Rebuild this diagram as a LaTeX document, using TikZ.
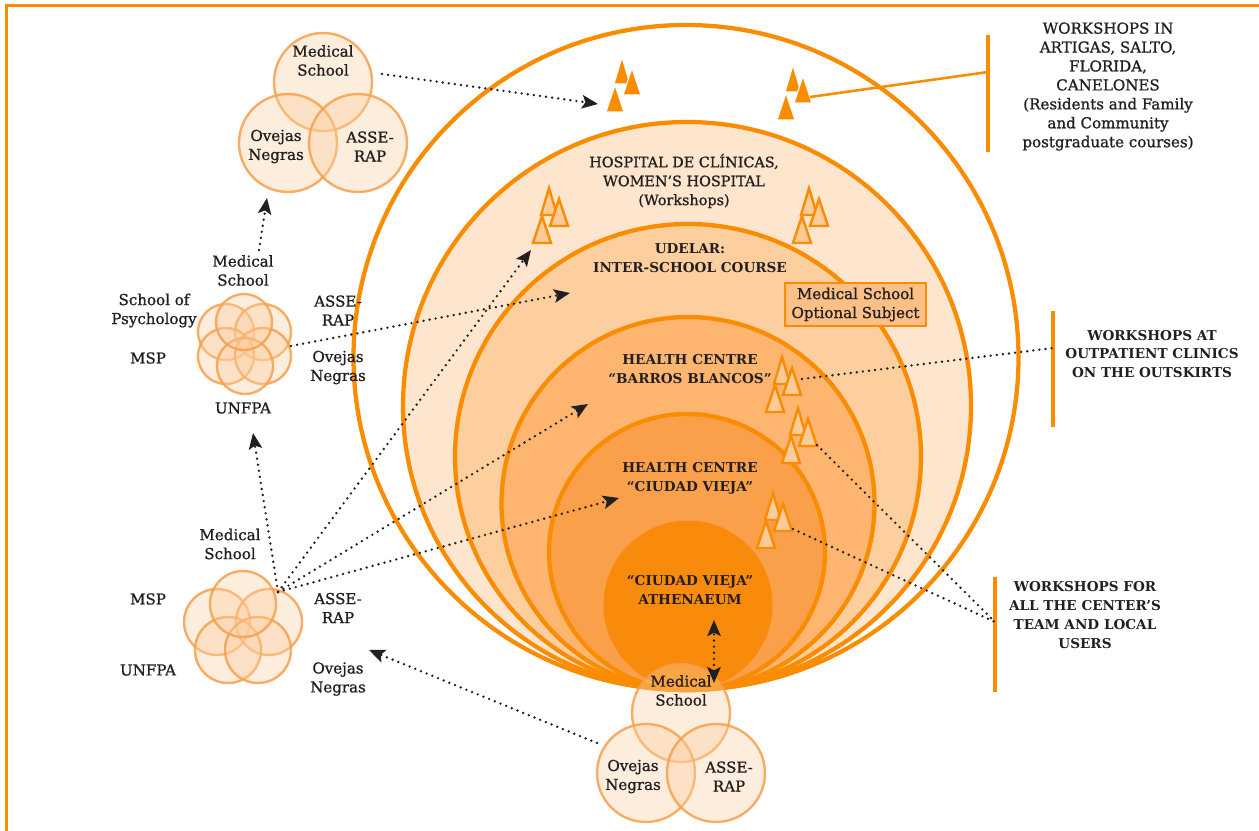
\documentclass[tikz,border=0pt]{standalone}
\usepackage{fontspec}
\setmainfont{DejaVu Serif}
\newfontfamily\medfont{DejaVu Serif}[FakeBold=1.0]
\usetikzlibrary{arrows.meta}
\definecolor{org}{HTML}{F98C00}
\definecolor{ringA}{HTML}{FEE6CE}
\definecolor{ringB}{HTML}{FDCF9E}
\definecolor{ringC}{HTML}{FDB56F}
\definecolor{ringD}{HTML}{FBA04A}
\definecolor{ringE}{HTML}{F98B0C}
\definecolor{trifill}{HTML}{FDCB9A}
\definecolor{boxfill}{HTML}{FCBF86}
\definecolor{vcdraw}{HTML}{F6A04D}
\definecolor{vcfill}{HTML}{FBCFA2}
\definecolor{ink}{HTML}{231F20}
\tikzset{
  ring/.style={circle, draw=org, line width=3.2pt, inner sep=0pt},
  vc/.style={circle, draw=vcdraw, draw opacity=0.85, line width=1.8pt, fill=vcfill, fill opacity=0.38, inner sep=0pt},
  lbl/.style={align=center, inner sep=0pt, text=ink, font=\medfont\fontsize{11.3}{14.2}\selectfont},
  caplbl/.style={lbl, font=\bfseries\fontsize{10.2}{14.2}\selectfont},
  dots/.style={draw=ink, line width=2pt, dash pattern=on 0pt off 4.6pt, line cap=round},
  arr/.style={dots, -{Stealth[length=12pt,width=10pt,inset=2.5pt]}},
  darr/.style={dots, {Stealth[length=12pt,width=10pt,inset=2.5pt]}-{Stealth[length=12pt,width=10pt,inset=2.5pt]}},
  bar/.style={draw=org, line width=3pt},
  otri/.style={draw=org, line width=1.8pt, fill=trifill},
  stri/.style={draw=white, line width=0.9pt, fill=org},
  tris/.pic={
    \path[pic actions] (0,0) -- (8,27) -- (-8,27) -- cycle;
    \path[pic actions] (10,11) -- (19,38) -- (1,38) -- cycle;
    \path[pic actions] (-7,28) -- (2,55) -- (-16,55) -- cycle;
  }
}
\begin{document}
\begin{tikzpicture}[x=0.75pt,y=-0.75pt]
\useasboundingbox (0,0) rectangle (1259,831);
% frame
\draw[org, line width=1.9pt] (6.5,831) -- (6.5,5.5) -- (1259,5.5);

% rings
\node[ring, fill=white, minimum size=498.75pt] (outer) at (686,357.5) {};
\node[ring, fill=ringA, minimum size=426pt] (hosp) at (687,406) {};
\node[ring, fill=ringB, minimum size=349.5pt] (udelar) at (688,457) {};
\node[ring, fill=ringC, minimum size=279.75pt] (barros) at (688,503.5) {};
\node[ring, fill=ringD, minimum size=207pt] (cvieja) at (687,552) {};
\node[circle, fill=ringE, inner sep=0pt, minimum size=126.75pt] (ath) at (688,605) {};

% ring labels
\node[lbl, font=\medfont\fontsize{10.8}{14.2}\selectfont] (lhosp) at (684,181) {HOSPITAL DE CLÍNICAS,\\WOMEN’S HOSPITAL\\(Workshops)};
\node[caplbl] (ludelar) at (690,258.5) {UDELAR:\\INTER-SCHOOL COURSE};
\node[caplbl] (lbarros) at (690,369) {HEALTH CENTRE\\“BARROS BLANCOS”};
\node[caplbl] (lcv) at (690,478) {HEALTH CENTRE\\“CIUDAD VIEJA”};
\node[caplbl] (lath) at (690,590.5) {“CIUDAD VIEJA”\\ATHENAEUM};
\node[lbl, draw=org, line width=1.8pt, fill=boxfill, minimum width=105.75pt, minimum height=32.25pt] (optbox) at (855.5,304.5) {Medical School\\Optional Subject};

% triangle groups
\pic[stri] at (622,57) {tris};
\pic[stri] at (793,65) {tris};
\pic[otri] at (549,188) {tris};
\pic[otri] at (809,188) {tris};
\pic[otri] at (782,357) {tris};
\pic[otri] at (798,408) {tris};
\pic[otri] at (773,493) {tris};

% top-left cluster
\node[vc, minimum size=73.5pt] (tlm) at (323,82) {};
\node[vc, minimum size=73.5pt] (tlo) at (288,143) {};
\node[vc, minimum size=73.5pt] (tla) at (358,143) {};
\node[lbl] (ttlm) at (323,60.5) {Medical\\School};
\node[lbl] (ttlo) at (276,146.5) {Ovejas\\Negras};
\node[lbl] (ttla) at (370,146.5) {ASSE-\\RAP};

% middle cluster (6)
\node[vc, minimum size=42pt] (mp) at (226,332) {};
\node[vc, minimum size=42pt] (ma) at (263,332) {};
\node[vc, minimum size=42pt] (ms) at (226,356) {};
\node[vc, minimum size=42pt] (mo) at (263,356) {};
\node[vc, minimum size=42pt] (mu) at (245,366) {};
\node[vc, minimum size=42pt] (mm) at (244,322) {};
\node[lbl] (tmm) at (243,270.5) {Medical\\School};
\node[lbl] (tmp) at (154,310.5) {School of\\Psychology};
\node[lbl] (tms) at (148,358) {MSP};
\node[lbl] (tma) at (338,310.5) {ASSE-\\RAP};
\node[lbl] (tmo) at (338,367.5) {Ovejas\\Negras};
\node[lbl] (tmu) at (243,408) {UNFPA};

% lower-left cluster (5)
\node[vc, minimum size=49.5pt] (ls) at (217,622) {};
\node[vc, minimum size=49.5pt] (la) at (269,622) {};
\node[vc, minimum size=49.5pt] (lu) at (228,650) {};
\node[vc, minimum size=49.5pt] (lo) at (258,650) {};
\node[vc, minimum size=49.5pt] (lm) at (243,604) {};
\node[lbl] (tlm2) at (230,544) {Medical\\School};
\node[lbl] (tls) at (148,599) {MSP};
\node[lbl] (tla2) at (338,608) {ASSE-\\RAP};
\node[lbl] (tlu) at (148,670) {UNFPA};
\node[lbl] (tlo2) at (338,679) {Ovejas\\Negras};

% bottom cluster
\node[vc, minimum size=73.5pt] (bm) at (681,713) {};
\node[vc, minimum size=73.5pt] (bo) at (646,773) {};
\node[vc, minimum size=73.5pt] (ba) at (716,773) {};
\node[lbl] (tbm) at (681,690.5) {Medical\\School};
\node[lbl] (tbo) at (633,776.5) {Ovejas\\Negras};
\node[lbl] (tba) at (729,776.5) {ASSE-\\RAP};

% right bars and labels
\coordinate (b1t) at (988,35); \coordinate (b1b) at (988,152);
\coordinate (b2t) at (1053,311); \coordinate (b2b) at (1053,427);
\coordinate (b3t) at (995,577); \coordinate (b3b) at (995,692);
\draw[bar] (b1t) -- (b1b);
\draw[bar] (b2t) -- (b2b);
\draw[bar] (b3t) -- (b3b);
\node[lbl] (r1) at (1108,86.5) {WORKSHOPS IN\\ARTIGAS, SALTO,\\FLORIDA,\\CANELONES\\(Residents and Family\\and Community\\postgraduate courses)};
\node[caplbl] (r2) at (1152,354) {WORKSHOPS AT\\OUTPATIENT CLINICS\\ON THE OUTSKIRTS};
\node[caplbl] (r3) at (1085,615) {WORKSHOPS FOR\\ALL THE CENTER’S\\TEAM AND LOCAL\\USERS};

% connector coordinates
\coordinate (c1s) at (382,74);  \coordinate (c1e) at (598,104);
\coordinate (m1s) at (259,250); \coordinate (m1e) at (267,198);
\coordinate (m2s) at (291,346); \coordinate (m2e) at (570,293);
\coordinate (hub) at (278,592);
\coordinate (h1) at (253,433); \coordinate (h2) at (531,250);
\coordinate (h3) at (588,404); \coordinate (h4) at (619,498);
\coordinate (bls) at (597,743); \coordinate (ble) at (369,650);
\coordinate (dvt) at (714,620); \coordinate (dvb) at (714,683);
\coordinate (t5) at (802,379); \coordinate (b2m) at (1053,348);
\coordinate (t6) at (817,445); \coordinate (t7) at (793,529); \coordinate (b3m) at (995,622);
\coordinate (t2) at (810,97); \coordinate (b1m) at (988,72);

\draw[org, line width=1.9pt] (b1m) -- (t2);
\draw[arr] (c1s) -- (c1e);
\draw[arr] (m1s) -- (m1e);
\draw[arr] (m2s) -- (m2e);
\draw[arr] (hub) -- (h1);
\draw[arr] (hub) -- (h2);
\draw[arr] (hub) -- (h3);
\draw[arr] (hub) -- (h4);
\draw[arr] (bls) -- (ble);
\draw[darr] (dvb) -- (dvt);
\draw[dots] (t5) -- (b2m);
\draw[dots] (t6) -- (b3m);
\draw[dots] (t7) -- (b3m);
\end{tikzpicture}
\end{document}
